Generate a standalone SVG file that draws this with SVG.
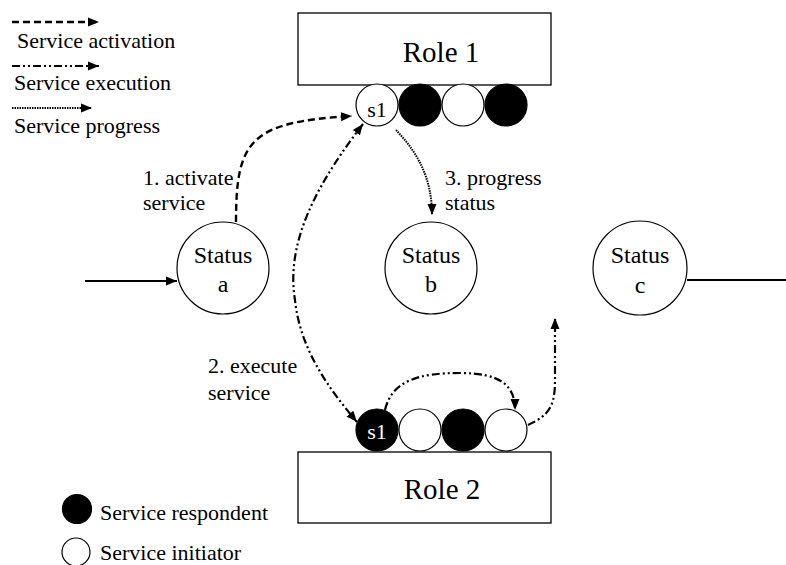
<svg xmlns="http://www.w3.org/2000/svg" width="786" height="565" viewBox="0 0 786 565">
<style>
text{font-family:"Liberation Serif","Times New Roman",serif;fill:#000}
.lbl{font-size:22px}
.st{font-size:24px;text-anchor:middle}
.role{font-size:29px;text-anchor:middle}
.s1{font-size:22px;text-anchor:middle}
.box{fill:#fff;stroke:#000;stroke-width:1.3}
.wc{fill:#fff;stroke:#000;stroke-width:1.2}
.bc{fill:#000;stroke:#000;stroke-width:1.2}
.act{fill:none;stroke:#000;stroke-width:2.4;stroke-dasharray:7 4}
.exe{fill:none;stroke:#000;stroke-width:2.2;stroke-dasharray:8 3 2 3 2 3}
.prg{fill:none;stroke:#000;stroke-width:2;stroke-dasharray:1.5 1}
.sol{fill:none;stroke:#000;stroke-width:2}
</style>
<defs>
<marker id="ah" markerUnits="userSpaceOnUse" markerWidth="12" markerHeight="10" refX="11" refY="4.5" orient="auto-start-reverse" viewBox="0 0 12 9">
<path d="M0,0 L11,4.5 L0,9 z" fill="#000"/>
</marker>
</defs>

<g id="legend">
<line x1="12" y1="22" x2="99" y2="22" class="act" marker-end="url(#ah)"/>
<text class="lbl" x="17" y="48">Service activation</text>
<line x1="12" y1="66" x2="99" y2="66" class="exe" marker-end="url(#ah)"/>
<text class="lbl" x="14" y="90">Service execution</text>
<line x1="12" y1="108" x2="92" y2="108" class="prg" marker-end="url(#ah)"/>
<text class="lbl" x="14" y="133">Service progress</text>
<circle cx="77" cy="509" r="14.5" class="bc"/>
<text class="lbl" x="100" y="520">Service respondent</text>
<circle cx="76" cy="552" r="14" class="wc"/>
<text class="lbl" x="100" y="560">Service initiator</text>
</g>

<g id="role1">
<rect x="298" y="13" width="253" height="72" class="box"/>
<text class="role" x="441" y="62">Role 1</text>
</g>
<g id="role1-services">
<circle cx="377" cy="105" r="21" class="wc"/>
<text class="s1" x="377" y="117">s1</text>
<circle cx="420" cy="105" r="21" class="bc"/>
<circle cx="463" cy="105" r="21" class="wc"/>
<circle cx="506" cy="105" r="21" class="bc"/>
</g>

<g id="role2">
<rect x="298" y="452" width="253" height="71" class="box"/>
<text class="role" x="442" y="499">Role 2</text>
</g>
<g id="role2-services">
<circle cx="377" cy="430" r="21" class="bc"/>
<text class="s1" x="377" y="439" style="fill:#fff">s1</text>
<circle cx="420" cy="430" r="21" class="wc"/>
<circle cx="463" cy="430" r="21" class="bc"/>
<circle cx="506" cy="430" r="21" class="wc"/>
</g>

<g id="status-a">
<circle cx="223" cy="268" r="46" class="wc"/>
<text class="st" x="223" y="263">Status</text>
<text class="st" x="223" y="292">a</text>
</g>
<g id="status-b">
<circle cx="431" cy="268" r="46" class="wc"/>
<text class="st" x="431" y="263">Status</text>
<text class="st" x="431" y="292">b</text>
</g>
<g id="status-c">
<circle cx="640" cy="268" r="47" class="wc"/>
<text class="st" x="640" y="263">Status</text>
<text class="st" x="640" y="293">c</text>
</g>

<g id="connectors">
<line x1="85" y1="281" x2="177" y2="281" class="sol" marker-end="url(#ah)"/>
<line x1="687" y1="280" x2="786" y2="280" class="sol"/>
<path d="M236,222 C236,140 250,122 352,116" class="act" marker-end="url(#ah)"/>
<path d="M363,124 C320,180 285,240 295,300 C300,350 330,390 357,422" class="exe" marker-start="url(#ah)" marker-end="url(#ah)"/>
<path d="M396,130 C415,150 432,175 432,215" class="prg" marker-end="url(#ah)"/>
<path d="M385,410 C392,380 420,373 460,373 C500,373 515,385 515,410" class="exe" marker-end="url(#ah)"/>
<path d="M528,425 C550,415 555,405 555,380 L555,318" class="exe" marker-end="url(#ah)"/>
</g>

<g id="labels">
<text class="lbl" x="143" y="185">1. activate</text>
<text class="lbl" x="143" y="210">service</text>
<text class="lbl" x="445" y="185">3. progress</text>
<text class="lbl" x="445" y="210">status</text>
<text class="lbl" x="208" y="373">2. execute</text>
<text class="lbl" x="208" y="400">service</text>
</g>
</svg>
